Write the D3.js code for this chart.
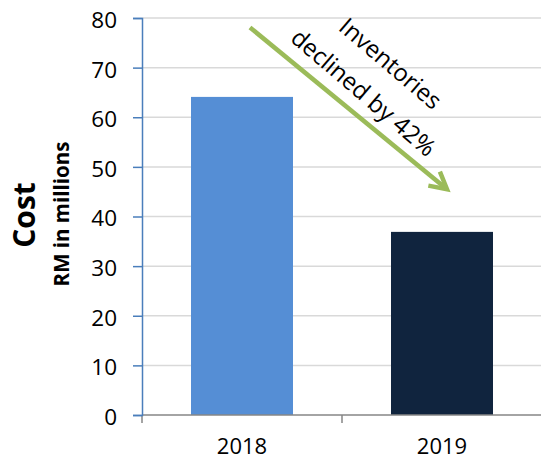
<!DOCTYPE html>
<html><head><meta charset="utf-8">
<script src="https://cdn.jsdelivr.net/npm/d3@7"></script>
<style>body{margin:0;background:#fff}svg{display:block}text{font-family:"Open Sans",sans-serif}</style>
</head><body>
<svg id="c" width="541" height="462"></svg>
<script>
const categories = ["2018", "2019"];
const values = [64.1, 36.9];
const barColors = ["#558ED5", "#10243E"];
const yTicks = [0, 10, 20, 30, 40, 50, 60, 70, 80];
const annotationLines = ["Inventories", "declined by 42%"];

const svg = d3.select("#c");
const W = 541, H = 462;
const plotLeft = 142, plotRight = 542, plotTop = 18, plotBottom = 415;

const x = d3.scaleBand().domain(categories).range([plotLeft, plotRight]).paddingInner(0.49).paddingOuter(0.245);
const y = d3.scaleLinear().domain([0, 80]).range([plotBottom, plotTop]);
const xPos = d3.scaleLinear().domain([0, categories.length]).range([plotLeft, plotRight]);

// gridlines
svg.append("g").selectAll("line").data(yTicks.filter(d => d > 0)).join("line")
  .attr("x1", plotLeft).attr("x2", W).attr("y1", d => y(d)).attr("y2", d => y(d))
  .attr("stroke", "#d9d9d9").attr("stroke-width", 1.5);

// bars
svg.append("g").selectAll("rect").data(values).join("rect")
  .attr("x", (d, i) => x(categories[i])).attr("width", x.bandwidth())
  .attr("y", d => y(d)).attr("height", d => y(0) - y(d))
  .attr("fill", (d, i) => barColors[i]);

// x axis
const xAxis = svg.append("g");
xAxis.append("line").attr("x1", plotLeft).attr("x2", W).attr("y1", plotBottom).attr("y2", plotBottom)
  .attr("stroke", "#868686").attr("stroke-width", 1.5);
xAxis.selectAll("line.t").data(d3.range(categories.length + 1)).join("line").attr("class", "t")
  .attr("x1", d => xPos(d)).attr("x2", d => xPos(d)).attr("y1", plotBottom).attr("y2", plotBottom + 8)
  .attr("stroke", "#868686").attr("stroke-width", 1.5);
xAxis.selectAll("text").data(categories).join("text")
  .attr("x", d => x(d) + x.bandwidth() / 2).attr("y", 454)
  .attr("text-anchor", "middle").attr("font-size", 22).attr("fill", "#000").text(d => d);

// y axis
const yAxis = svg.append("g").attr("transform", `translate(${plotLeft},0)`)
  .call(d3.axisLeft(y).tickValues(yTicks).tickSize(9).tickPadding(16));
yAxis.select(".domain").attr("stroke", "#4A7EBB").attr("stroke-width", 1.5);
yAxis.selectAll(".tick line").attr("stroke", "#4A7EBB").attr("stroke-width", 1.5);
yAxis.selectAll(".tick text").attr("font-size", 22.5).attr("fill", "#000")
  .attr("font-family", "Open Sans, sans-serif").attr("dy", "0.42em");

// y titles
svg.append("text").attr("transform", "translate(35,215) rotate(-90)")
  .attr("text-anchor", "middle").attr("font-size", 30).attr("font-weight", "bold").text("Cost");
svg.append("text").attr("transform", "translate(69,214) rotate(-90)")
  .attr("text-anchor", "middle").attr("font-size", 20.5).attr("font-weight", "bold").text("RM in millions");

// annotation arrow
const x0 = xPos(0.54), y0 = y(78.1), x1 = xPos(1.525), y1 = y(45.5);
const ang = Math.atan2(y1 - y0, x1 - x0);
const g = svg.append("g").attr("stroke", "#9BBB59").attr("stroke-width", 4.5).attr("fill", "none");
g.append("line").attr("x1", x0).attr("y1", y0).attr("x2", x1 - 2 * Math.cos(ang)).attr("y2", y1 - 2 * Math.sin(ang));
const L = 19, a = 0.5;
g.append("polyline").attr("stroke-linejoin", "miter").attr("points", [
  [x1 - L * Math.cos(ang - a), y1 - L * Math.sin(ang - a)],
  [x1, y1],
  [x1 - L * Math.cos(ang + a), y1 - L * Math.sin(ang + a)]
].map(p => p.join(",")).join(" "));

const deg = 40.5;
const textPos = [[385, 70], [358, 99]];
svg.append("g").selectAll("text").data(annotationLines).join("text")
  .attr("transform", (d, i) => `translate(${textPos[i][0]},${textPos[i][1]}) rotate(${deg})`)
  .attr("text-anchor", "middle").attr("font-size", 24).attr("fill", "#000").text(d => d);
</script>
</body></html>
